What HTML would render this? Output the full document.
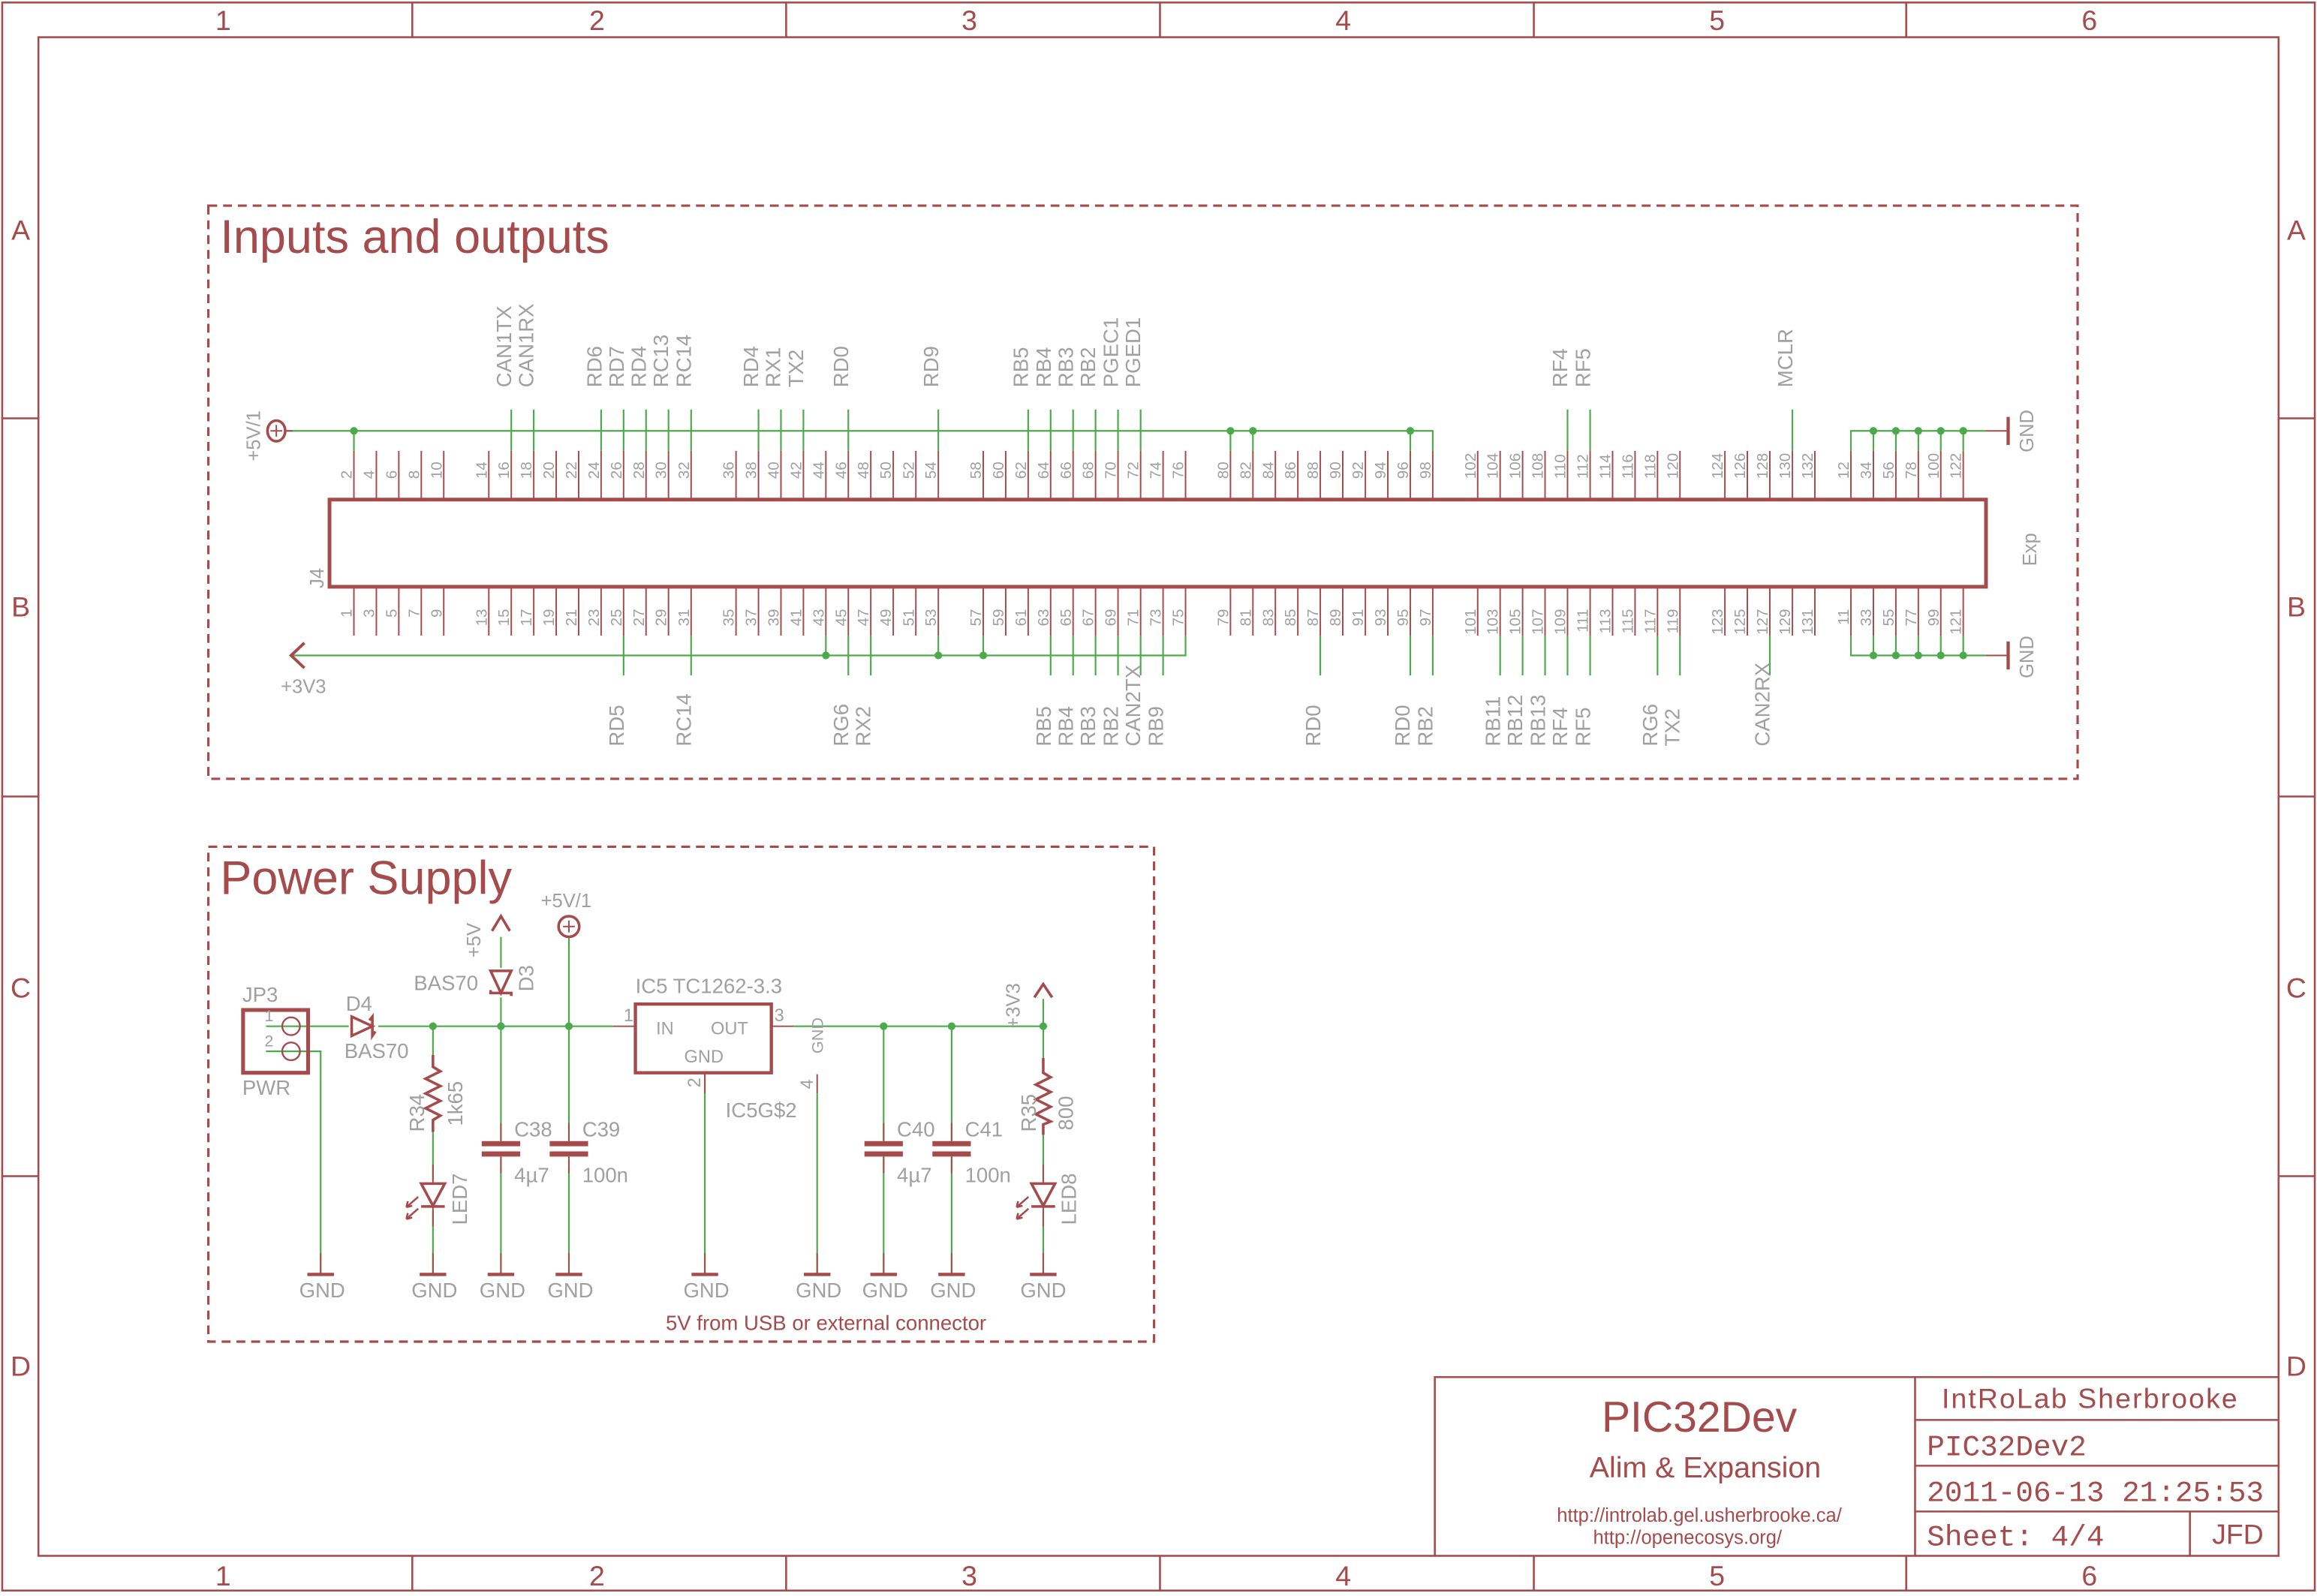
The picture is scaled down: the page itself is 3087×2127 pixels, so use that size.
<!DOCTYPE html>
<html><head><meta charset="utf-8"><style>
html,body{margin:0;padding:0;background:#fff}
svg{display:block}
.r{stroke:#a54b4b;fill:none}
.g{stroke:#4caa4c;fill:none;stroke-width:1.1}
.t{fill:#a0a0a0;font-family:"Liberation Sans",sans-serif}
.pn{font-size:10.5px}
.sl{font-size:14px}
.fr{fill:#a54b4b;font-family:"Liberation Sans",sans-serif}
.m{font-family:"Liberation Mono",monospace}
.dot{fill:#4caa4c}
</style></head><body>
<svg width="3087" height="2127" viewBox="0 0 1568 1080" xmlns="http://www.w3.org/2000/svg">
<rect width="1568" height="1080" fill="#fff"/>
<g class="r" stroke-width="1.3">
<rect x="1.5" y="1.5" width="1565" height="1075"/>
<rect x="26" y="25" width="1516" height="1028"/>
<path d="M279 1V25M532 1V25M785 1V25M1038 1V25M1290 1V25M279 1053V1077M532 1053V1077M785 1053V1077M1038 1053V1077M1290 1053V1077M1 283H26M1 539H26M1 796H26M1542 283H1567M1542 539H1567M1542 796H1567"/>
</g>
<g class="fr" font-size="19" text-anchor="middle">
<text x="151" y="20">1</text><text x="404" y="20">2</text><text x="656" y="20">3</text><text x="909" y="20">4</text><text x="1162" y="20">5</text><text x="1414" y="20">6</text>
<text x="151" y="1073">1</text><text x="404" y="1073">2</text><text x="656" y="1073">3</text><text x="909" y="1073">4</text><text x="1162" y="1073">5</text><text x="1414" y="1073">6</text>
<text x="14" y="162">A</text><text x="14" y="417">B</text><text x="14" y="675">C</text><text x="14" y="931">D</text>
<text x="1554" y="162">A</text><text x="1554" y="417">B</text><text x="1554" y="675">C</text><text x="1554" y="931">D</text>
</g>
<g class="r" stroke-width="1.6" stroke-dasharray="6,4">
<rect x="141" y="139" width="1265" height="388"/>
<rect x="141" y="573" width="640" height="335"/>
</g>
<text class="fr" x="149" y="171" font-size="32">Inputs and outputs</text>
<text class="fr" x="149" y="605" font-size="32">Power Supply</text>

<rect x="223" y="338" width="1121" height="59" class="r" stroke-width="2.5"/>
<text class="t" font-size="13" transform="translate(219,398) rotate(-90)">J4</text>
<text class="t" font-size="13" transform="translate(1378,383) rotate(-90)">Exp</text>

<g class="r" stroke-width="1">
<path d="M239.5 305V338M254.7 305V338M269.9 305V338M285.1 305V338M300.3 305V338M330.8 305V338M346 305V338M361.2 305V338M376.4 305V338M391.6 305V338M406.8 305V338M422 305V338M437.2 305V338M452.4 305V338M467.7 305V338M498.1 305V338M513.3 305V338M528.5 305V338M543.7 305V338M558.9 305V338M574.1 305V338M589.3 305V338M604.5 305V338M619.8 305V338M635 305V338M665.4 305V338M680.6 305V338M695.8 305V338M711 305V338M726.2 305V338M741.4 305V338M756.6 305V338M771.9 305V338M787.1 305V338M802.3 305V338M832.7 305V338M847.9 305V338M863.1 305V338M878.3 305V338M893.5 305V338M908.7 305V338M924 305V338M939.2 305V338M954.4 305V338M969.6 305V338M1000 305V338M1015.2 305V338M1030.4 305V338M1045.6 305V338M1060.8 305V338M1076.1 305V338M1091.3 305V338M1106.5 305V338M1121.7 305V338M1136.9 305V338M1167.3 305V338M1182.5 305V338M1197.7 305V338M1213 305V338M1228.2 305V338M1252.6 305V338M1267.8 305V338M1283 305V338M1298.2 305V338M1313.4 305V338M1328.6 305V338"/>
<path d="M239.5 397V430M254.7 397V430M269.9 397V430M285.1 397V430M300.3 397V430M330.8 397V430M346 397V430M361.2 397V430M376.4 397V430M391.6 397V430M406.8 397V430M422 397V430M437.2 397V430M452.4 397V430M467.7 397V430M498.1 397V430M513.3 397V430M528.5 397V430M543.7 397V430M558.9 397V430M574.1 397V430M589.3 397V430M604.5 397V430M619.8 397V430M635 397V430M665.4 397V430M680.6 397V430M695.8 397V430M711 397V430M726.2 397V430M741.4 397V430M756.6 397V430M771.9 397V430M787.1 397V430M802.3 397V430M832.7 397V430M847.9 397V430M863.1 397V430M878.3 397V430M893.5 397V430M908.7 397V430M924 397V430M939.2 397V430M954.4 397V430M969.6 397V430M1000 397V430M1015.2 397V430M1030.4 397V430M1045.6 397V430M1060.8 397V430M1076.1 397V430M1091.3 397V430M1106.5 397V430M1121.7 397V430M1136.9 397V430M1167.3 397V430M1182.5 397V430M1197.7 397V430M1213 397V430M1228.2 397V430M1252.6 397V430M1267.8 397V430M1283 397V430M1298.2 397V430M1313.4 397V430M1328.6 397V430"/>
</g>

<g class="t pn">
<text transform="translate(238,324) rotate(-90)">2</text>
<text transform="translate(253.2,324) rotate(-90)">4</text>
<text transform="translate(268.4,324) rotate(-90)">6</text>
<text transform="translate(283.6,324) rotate(-90)">8</text>
<text transform="translate(298.8,324) rotate(-90)">10</text>
<text transform="translate(329.3,324) rotate(-90)">14</text>
<text transform="translate(344.5,324) rotate(-90)">16</text>
<text transform="translate(359.7,324) rotate(-90)">18</text>
<text transform="translate(374.9,324) rotate(-90)">20</text>
<text transform="translate(390.1,324) rotate(-90)">22</text>
<text transform="translate(405.3,324) rotate(-90)">24</text>
<text transform="translate(420.5,324) rotate(-90)">26</text>
<text transform="translate(435.7,324) rotate(-90)">28</text>
<text transform="translate(450.9,324) rotate(-90)">30</text>
<text transform="translate(466.2,324) rotate(-90)">32</text>
<text transform="translate(496.6,324) rotate(-90)">36</text>
<text transform="translate(511.8,324) rotate(-90)">38</text>
<text transform="translate(527,324) rotate(-90)">40</text>
<text transform="translate(542.2,324) rotate(-90)">42</text>
<text transform="translate(557.4,324) rotate(-90)">44</text>
<text transform="translate(572.6,324) rotate(-90)">46</text>
<text transform="translate(587.8,324) rotate(-90)">48</text>
<text transform="translate(603,324) rotate(-90)">50</text>
<text transform="translate(618.3,324) rotate(-90)">52</text>
<text transform="translate(633.5,324) rotate(-90)">54</text>
<text transform="translate(663.9,324) rotate(-90)">58</text>
<text transform="translate(679.1,324) rotate(-90)">60</text>
<text transform="translate(694.3,324) rotate(-90)">62</text>
<text transform="translate(709.5,324) rotate(-90)">64</text>
<text transform="translate(724.7,324) rotate(-90)">66</text>
<text transform="translate(739.9,324) rotate(-90)">68</text>
<text transform="translate(755.1,324) rotate(-90)">70</text>
<text transform="translate(770.4,324) rotate(-90)">72</text>
<text transform="translate(785.6,324) rotate(-90)">74</text>
<text transform="translate(800.8,324) rotate(-90)">76</text>
<text transform="translate(831.2,324) rotate(-90)">80</text>
<text transform="translate(846.4,324) rotate(-90)">82</text>
<text transform="translate(861.6,324) rotate(-90)">84</text>
<text transform="translate(876.8,324) rotate(-90)">86</text>
<text transform="translate(892,324) rotate(-90)">88</text>
<text transform="translate(907.2,324) rotate(-90)">90</text>
<text transform="translate(922.5,324) rotate(-90)">92</text>
<text transform="translate(937.7,324) rotate(-90)">94</text>
<text transform="translate(952.9,324) rotate(-90)">96</text>
<text transform="translate(968.1,324) rotate(-90)">98</text>
<text transform="translate(998.5,324) rotate(-90)">102</text>
<text transform="translate(1013.7,324) rotate(-90)">104</text>
<text transform="translate(1028.9,324) rotate(-90)">106</text>
<text transform="translate(1044.1,324) rotate(-90)">108</text>
<text transform="translate(1059.3,324) rotate(-90)">110</text>
<text transform="translate(1074.6,324) rotate(-90)">112</text>
<text transform="translate(1089.8,324) rotate(-90)">114</text>
<text transform="translate(1105,324) rotate(-90)">116</text>
<text transform="translate(1120.2,324) rotate(-90)">118</text>
<text transform="translate(1135.4,324) rotate(-90)">120</text>
<text transform="translate(1165.8,324) rotate(-90)">124</text>
<text transform="translate(1181,324) rotate(-90)">126</text>
<text transform="translate(1196.2,324) rotate(-90)">128</text>
<text transform="translate(1211.5,324) rotate(-90)">130</text>
<text transform="translate(1226.7,324) rotate(-90)">132</text>
<text transform="translate(1251.1,324) rotate(-90)">12</text>
<text transform="translate(1266.3,324) rotate(-90)">34</text>
<text transform="translate(1281.5,324) rotate(-90)">56</text>
<text transform="translate(1296.7,324) rotate(-90)">78</text>
<text transform="translate(1311.9,324) rotate(-90)">100</text>
<text transform="translate(1327.1,324) rotate(-90)">122</text>
</g>
<g class="t pn" text-anchor="end">
<text transform="translate(238,412) rotate(-90)">1</text>
<text transform="translate(253.2,412) rotate(-90)">3</text>
<text transform="translate(268.4,412) rotate(-90)">5</text>
<text transform="translate(283.6,412) rotate(-90)">7</text>
<text transform="translate(298.8,412) rotate(-90)">9</text>
<text transform="translate(329.3,412) rotate(-90)">13</text>
<text transform="translate(344.5,412) rotate(-90)">15</text>
<text transform="translate(359.7,412) rotate(-90)">17</text>
<text transform="translate(374.9,412) rotate(-90)">19</text>
<text transform="translate(390.1,412) rotate(-90)">21</text>
<text transform="translate(405.3,412) rotate(-90)">23</text>
<text transform="translate(420.5,412) rotate(-90)">25</text>
<text transform="translate(435.7,412) rotate(-90)">27</text>
<text transform="translate(450.9,412) rotate(-90)">29</text>
<text transform="translate(466.2,412) rotate(-90)">31</text>
<text transform="translate(496.6,412) rotate(-90)">35</text>
<text transform="translate(511.8,412) rotate(-90)">37</text>
<text transform="translate(527,412) rotate(-90)">39</text>
<text transform="translate(542.2,412) rotate(-90)">41</text>
<text transform="translate(557.4,412) rotate(-90)">43</text>
<text transform="translate(572.6,412) rotate(-90)">45</text>
<text transform="translate(587.8,412) rotate(-90)">47</text>
<text transform="translate(603,412) rotate(-90)">49</text>
<text transform="translate(618.3,412) rotate(-90)">51</text>
<text transform="translate(633.5,412) rotate(-90)">53</text>
<text transform="translate(663.9,412) rotate(-90)">57</text>
<text transform="translate(679.1,412) rotate(-90)">59</text>
<text transform="translate(694.3,412) rotate(-90)">61</text>
<text transform="translate(709.5,412) rotate(-90)">63</text>
<text transform="translate(724.7,412) rotate(-90)">65</text>
<text transform="translate(739.9,412) rotate(-90)">67</text>
<text transform="translate(755.1,412) rotate(-90)">69</text>
<text transform="translate(770.4,412) rotate(-90)">71</text>
<text transform="translate(785.6,412) rotate(-90)">73</text>
<text transform="translate(800.8,412) rotate(-90)">75</text>
<text transform="translate(831.2,412) rotate(-90)">79</text>
<text transform="translate(846.4,412) rotate(-90)">81</text>
<text transform="translate(861.6,412) rotate(-90)">83</text>
<text transform="translate(876.8,412) rotate(-90)">85</text>
<text transform="translate(892,412) rotate(-90)">87</text>
<text transform="translate(907.2,412) rotate(-90)">89</text>
<text transform="translate(922.5,412) rotate(-90)">91</text>
<text transform="translate(937.7,412) rotate(-90)">93</text>
<text transform="translate(952.9,412) rotate(-90)">95</text>
<text transform="translate(968.1,412) rotate(-90)">97</text>
<text transform="translate(998.5,412) rotate(-90)">101</text>
<text transform="translate(1013.7,412) rotate(-90)">103</text>
<text transform="translate(1028.9,412) rotate(-90)">105</text>
<text transform="translate(1044.1,412) rotate(-90)">107</text>
<text transform="translate(1059.3,412) rotate(-90)">109</text>
<text transform="translate(1074.6,412) rotate(-90)">111</text>
<text transform="translate(1089.8,412) rotate(-90)">113</text>
<text transform="translate(1105,412) rotate(-90)">115</text>
<text transform="translate(1120.2,412) rotate(-90)">117</text>
<text transform="translate(1135.4,412) rotate(-90)">119</text>
<text transform="translate(1165.8,412) rotate(-90)">123</text>
<text transform="translate(1181,412) rotate(-90)">125</text>
<text transform="translate(1196.2,412) rotate(-90)">127</text>
<text transform="translate(1211.5,412) rotate(-90)">129</text>
<text transform="translate(1226.7,412) rotate(-90)">131</text>
<text transform="translate(1251.1,412) rotate(-90)">11</text>
<text transform="translate(1266.3,412) rotate(-90)">33</text>
<text transform="translate(1281.5,412) rotate(-90)">55</text>
<text transform="translate(1296.7,412) rotate(-90)">77</text>
<text transform="translate(1311.9,412) rotate(-90)">99</text>
<text transform="translate(1327.1,412) rotate(-90)">121</text>
</g>

<g class="g">
<path d="M194 291.5H969.6V305M239.5 291.5V305M832.7 291.5V305M847.9 291.5V305M954.4 291.5V305"/>
<path d="M346 277V305M361.2 277V305M406.8 277V305M422 277V305M437.2 277V305M452.4 277V305M467.7 277V305M513.3 277V305M528.5 277V305M543.7 277V305M574.1 277V305M635 277V305M695.8 277V305M711 277V305M726.2 277V305M741.4 277V305M756.6 277V305M771.9 277V305M1060.8 277V305M1076.1 277V305M1213 277V305"/>
<path d="M198 443.5H802.3V430M558.9 443.5V430M635 443.5V430M665.4 443.5V430"/>
<path d="M422 430V457M467.7 430V457M574.1 430V457M589.3 430V457M711 430V457M726.2 430V457M741.4 430V457M756.6 430V457M771.9 430V457M787.1 430V457M893.5 430V457M954.4 430V457M969.6 430V457M1015.2 430V457M1030.4 430V457M1045.6 430V457M1060.8 430V457M1076.1 430V457M1121.7 430V457M1136.9 430V457M1197.7 430V457"/>
<path d="M1252.6 305V291.5H1344M1267.8 291.5V305M1283 291.5V305M1298.2 291.5V305M1313.4 291.5V305M1328.6 291.5V305"/>
<path d="M1252.6 430V443.5H1344M1267.8 443.5V430M1283 443.5V430M1298.2 443.5V430M1313.4 443.5V430M1328.6 443.5V430"/>
</g>
<g class="dot">
<circle cx="239.5" cy="291.5" r="2.6"/><circle cx="832.7" cy="291.5" r="2.6"/><circle cx="847.9" cy="291.5" r="2.6"/><circle cx="954.4" cy="291.5" r="2.6"/>
<circle cx="558.9" cy="443.5" r="2.6"/><circle cx="635" cy="443.5" r="2.6"/><circle cx="665.4" cy="443.5" r="2.6"/>
<circle cx="1267.8" cy="291.5" r="2.6"/><circle cx="1283" cy="291.5" r="2.6"/><circle cx="1298.2" cy="291.5" r="2.6"/><circle cx="1313.4" cy="291.5" r="2.6"/><circle cx="1328.6" cy="291.5" r="2.6"/>
<circle cx="1267.8" cy="443.5" r="2.6"/><circle cx="1283" cy="443.5" r="2.6"/><circle cx="1298.2" cy="443.5" r="2.6"/><circle cx="1313.4" cy="443.5" r="2.6"/><circle cx="1328.6" cy="443.5" r="2.6"/>
</g>
<g class="r" stroke-width="2.2"><path d="M1359 282V301M1359 434V453"/></g>
<g class="r" stroke-width="1"><path d="M1344 291.5H1359M1344 443.5H1359"/></g>
<text class="t" font-size="13" transform="translate(1376,306) rotate(-90)">GND</text>
<text class="t" font-size="13" transform="translate(1376,459) rotate(-90)">GND</text>
<ellipse cx="187" cy="291.5" rx="6" ry="7" class="r" stroke-width="1.8"/>
<path d="M183 291.5H191M187 287.5V295.5" class="r" stroke-width="1"/>
<path d="M193 291.5H198" class="r" stroke-width="1"/>
<text class="t" font-size="13" transform="translate(176,312) rotate(-90)">+5V/1</text>
<path d="M206 435L197 443.5L206 452" class="r" stroke-width="2"/>
<text class="t" font-size="13" x="190" y="469">+3V3</text>

<g class="t sl">
<text transform="translate(346,262) rotate(-90)">CAN1TX</text>
<text transform="translate(361,262) rotate(-90)">CAN1RX</text>
<text transform="translate(407,262) rotate(-90)">RD6</text>
<text transform="translate(422,262) rotate(-90)">RD7</text>
<text transform="translate(437,262) rotate(-90)">RD4</text>
<text transform="translate(452,262) rotate(-90)">RC13</text>
<text transform="translate(467.5,262) rotate(-90)">RC14</text>
<text transform="translate(513,262) rotate(-90)">RD4</text>
<text transform="translate(528,262) rotate(-90)">RX1</text>
<text transform="translate(543.5,262) rotate(-90)">TX2</text>
<text transform="translate(574,262) rotate(-90)">RD0</text>
<text transform="translate(635,262) rotate(-90)">RD9</text>
<text transform="translate(695.5,262) rotate(-90)">RB5</text>
<text transform="translate(711,262) rotate(-90)">RB4</text>
<text transform="translate(726,262) rotate(-90)">RB3</text>
<text transform="translate(741,262) rotate(-90)">RB2</text>
<text transform="translate(756.5,262) rotate(-90)">PGEC1</text>
<text transform="translate(771.5,262) rotate(-90)">PGED1</text>
<text transform="translate(1060.5,262) rotate(-90)">RF4</text>
<text transform="translate(1076,262) rotate(-90)">RF5</text>
<text transform="translate(1213,262) rotate(-90)">MCLR</text>
</g>
<g class="t sl">
<text transform="translate(422,505) rotate(-90)">RD5</text>
<text transform="translate(467.5,505) rotate(-90)">RC14</text>
<text transform="translate(574,505) rotate(-90)">RG6</text>
<text transform="translate(589,505) rotate(-90)">RX2</text>
<text transform="translate(711,505) rotate(-90)">RB5</text>
<text transform="translate(726,505) rotate(-90)">RB4</text>
<text transform="translate(741,505) rotate(-90)">RB3</text>
<text transform="translate(756.5,505) rotate(-90)">RB2</text>
<text transform="translate(771.5,505) rotate(-90)">CAN2TX</text>
<text transform="translate(787,505) rotate(-90)">RB9</text>
<text transform="translate(893.5,505) rotate(-90)">RD0</text>
<text transform="translate(954,505) rotate(-90)">RD0</text>
<text transform="translate(969.5,505) rotate(-90)">RB2</text>
<text transform="translate(1015,505) rotate(-90)">RB11</text>
<text transform="translate(1030,505) rotate(-90)">RB12</text>
<text transform="translate(1045.5,505) rotate(-90)">RB13</text>
<text transform="translate(1060.5,505) rotate(-90)">RF4</text>
<text transform="translate(1076,505) rotate(-90)">RF5</text>
<text transform="translate(1121.5,505) rotate(-90)">RG6</text>
<text transform="translate(1136.5,505) rotate(-90)">TX2</text>
<text transform="translate(1197.5,505) rotate(-90)">CAN2RX</text>
</g>

<g class="g">
<path d="M180 694.5H415"/>
<path d="M180 711.5H217V862"/>
<path d="M293 694.5V862"/>
<path d="M339 634V862"/>
<path d="M385 634V862"/>
<path d="M477 727V862"/>
<path d="M553 740V862"/>
<path d="M537 694.5H706"/>
<path d="M598 694.5V862M644 694.5V862M706 676V862"/>
</g>
<g class="dot">
<circle cx="293" cy="694.5" r="2.6"/><circle cx="339" cy="694.5" r="2.6"/><circle cx="385" cy="694.5" r="2.6"/>
<circle cx="598" cy="694.5" r="2.6"/><circle cx="644" cy="694.5" r="2.6"/><circle cx="706" cy="694.5" r="2.6"/>
</g>
<g fill="#fff" stroke="none">
<rect x="236" y="688" width="20" height="13"/>
<rect x="288" y="722" width="10" height="40"/>
<rect x="284" y="799" width="18" height="20"/>
<rect x="332" y="655" width="16" height="20"/>
<rect x="324" y="774" width="30" height="6"/>
<rect x="370" y="774" width="30" height="6"/>
<rect x="583" y="774" width="30" height="6"/>
<rect x="629" y="774" width="30" height="6"/>
<rect x="701" y="727" width="10" height="35"/>
<rect x="697" y="799" width="18" height="20"/>
</g>
<rect x="164.5" y="683.5" width="44" height="42.5" class="r" stroke-width="2.6"/>
<ellipse cx="197" cy="694.5" rx="6" ry="6" class="r" stroke-width="1.2"/>
<ellipse cx="197" cy="711.5" rx="6" ry="6" class="r" stroke-width="1.2"/>
<text class="t" font-size="11" x="179" y="691">1</text>
<text class="t" font-size="11" x="179" y="708">2</text>
<text class="t" font-size="14" x="164" y="678">JP3</text>
<text class="t" font-size="14" x="164" y="741">PWR</text>
<path d="M238 688L252 694.5L238 701Z" class="r" stroke-width="1.8"/>
<path d="M250 690.5L252 688V701L254 698" class="r" stroke-width="1.8"/>
<text class="t" font-size="14" x="234" y="684">D4</text>
<text class="t" font-size="14" x="233" y="716">BAS70</text>
<path d="M293 714V722L298 725L288 730L298 735L288 740L298 745L288 750L298 755L293 758V766" class="r" stroke-width="1.8"/>
<text class="t" font-size="14" transform="translate(287,766) rotate(-90)">R34</text>
<text class="t" font-size="14" transform="translate(313,762) rotate(-90)">1k65</text>
<path d="M285 801H301L293 816Z M285 816.5H301" class="r" stroke-width="1.8"/>
<path d="M293 816V830M293 788V801" class="r" stroke-width="1"/>
<path d="M283 810L275 817M283 818L275 825M275 817l1-4M275 817l4-1M275 825l1-4M275 825l4-1" class="r" stroke-width="1.3"/>
<text class="t" font-size="14" transform="translate(316,829) rotate(-90)">LED7</text>
<path d="M332 657H346L339 672Z" class="r" stroke-width="1.8"/>
<path d="M332 670L332 672H346L346 674" class="r" stroke-width="1.8"/>
<path d="M333 630L339 620L345 630" class="r" stroke-width="1.8"/>
<text class="t" font-size="13" transform="translate(325,648) rotate(-90)">+5V</text>
<text class="t" font-size="14" x="280" y="670">BAS70</text>
<text class="t" font-size="14" transform="translate(361,671) rotate(-90)">D3</text>
<ellipse cx="385" cy="627" rx="7" ry="7" class="r" stroke-width="1.8"/>
<path d="M381 627H389M385 623V631" class="r" stroke-width="1"/>
<text class="t" font-size="13" x="366" y="614">+5V/1</text>
<g class="r" stroke-width="3.5">
<path d="M326 774H352M326 781H352M372 774H398M372 781H398M585 774H611M585 781H611M631 774H657M631 781H657"/>
</g>
<g class="r" stroke-width="1">
<path d="M339 760V772M339 783V794M385 760V772M385 783V794M598 760V772M598 783V794M644 760V772M644 783V794"/>
</g>
<g class="t" font-size="14">
<text x="348" y="769">C38</text><text x="348" y="800">4µ7</text>
<text x="394" y="769">C39</text><text x="394" y="800">100n</text>
<text x="607" y="769">C40</text><text x="607" y="800">4µ7</text>
<text x="653" y="769">C41</text><text x="653" y="800">100n</text>
</g>
<rect x="430" y="679.5" width="92" height="46.5" class="r" stroke-width="2.2" fill="#fff"/>
<path d="M415 694.5H430M522 694.5H537M477 726V740M553 727V740" class="r" stroke-width="1"/>
<g class="t" font-size="12">
<text x="444" y="700">IN</text><text x="481" y="700">OUT</text><text x="463" y="719">GND</text>
<text x="422" y="691" font-size="12">1</text><text x="524" y="691" font-size="12">3</text>
<text transform="translate(474,736) rotate(-90)" font-size="12">2</text>
<text transform="translate(550,737) rotate(-90)" font-size="12">4</text>
<text transform="translate(557,713) rotate(-90)" font-size="11">GND</text>
</g>
<text class="t" font-size="14" x="430" y="672">IC5  TC1262-3.3</text>
<text class="t" font-size="14" x="491" y="756">IC5G$2</text>
<path d="M700 675L706 666L712 675" class="r" stroke-width="1.8"/>
<text class="t" font-size="13" transform="translate(690,696) rotate(-90)">+3V3</text>
<path d="M706 716V726L711 729L701 734L711 739L701 744L711 749L701 754L711 759L706 761V768" class="r" stroke-width="1.8"/>
<text class="t" font-size="14" transform="translate(701,766) rotate(-90)">R35</text>
<text class="t" font-size="14" transform="translate(726,765) rotate(-90)">800</text>
<path d="M698 801H714L706 816Z M698 816.5H714" class="r" stroke-width="1.8"/>
<path d="M706 816V830M706 788V801" class="r" stroke-width="1"/>
<path d="M696 810L688 817M696 818L688 825M688 817l1-4M688 817l4-1M688 825l1-4M688 825l4-1" class="r" stroke-width="1.3"/>
<text class="t" font-size="14" transform="translate(728,829) rotate(-90)">LED8</text>
<g class="r" stroke-width="2.2">
<path d="M208 862.5H226M284 862.5H302M330 862.5H348M376 862.5H394M468 862.5H486M544 862.5H562M589 862.5H607M635 862.5H653M697 862.5H715"/>
</g>
<g class="r" stroke-width="1">
<path d="M217 848V862M293 848V862M339 848V862M385 848V862M477 848V862M553 848V862M598 848V862M644 848V862M706 848V862"/>
</g>
<g class="t" font-size="14" text-anchor="middle">
<text x="218" y="878">GND</text><text x="294" y="878">GND</text><text x="340" y="878">GND</text><text x="386" y="878">GND</text>
<text x="478" y="878">GND</text><text x="554" y="878">GND</text><text x="599" y="878">GND</text><text x="645" y="878">GND</text><text x="706" y="878">GND</text>
</g>
<text class="fr" font-size="14" x="559" y="900" text-anchor="middle">5V from USB or external connector</text>

<g class="r" stroke-width="1.3">
<path d="M971 1053V932H1542M1296 932V1053M1296 961H1542M1296 992H1542M1296 1023H1542M1482 1023V1053"/>
</g>
<text class="fr" font-size="29" x="1150" y="969" text-anchor="middle">PIC32Dev</text>
<text class="fr" font-size="20" x="1154" y="1000" text-anchor="middle">Alim &amp; Expansion</text>
<text class="fr" font-size="13" x="1150" y="1030" text-anchor="middle">http://introlab.gel.usherbrooke.ca/</text>
<text class="fr" font-size="13" x="1142" y="1045" text-anchor="middle">http://openecosys.org/</text>
<text class="fr" font-size="19" x="1314" y="953" textLength="200">IntRoLab Sherbrooke</text>
<text class="fr m" font-size="20" x="1304" y="985">PIC32Dev2</text>
<text class="fr m" font-size="20" x="1304" y="1016" textLength="228">2011-06-13 21:25:53</text>
<text class="fr m" font-size="20" x="1304" y="1046">Sheet: 4/4</text>
<text class="fr" font-size="19" x="1497" y="1045">JFD</text>
</svg>
</body></html>
